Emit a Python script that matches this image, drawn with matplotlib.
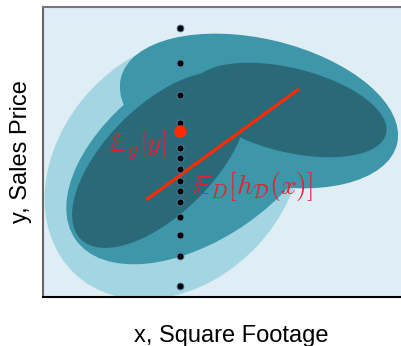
import matplotlib
matplotlib.use("Agg")
import matplotlib.pyplot as plt
from matplotlib.patches import Ellipse

plt.rcParams['font.family'] = ['Liberation Sans', 'DejaVu Sans']
plt.rcParams['mathtext.fontset'] = 'cm'

# ellipses (center x, center y, width, height, angle) for each shade
light_blobs = [(131, 129, 290, 228, 47)]
medium_blobs = [(155.5, 143.4, 300, 170, 35), (216, 186, 284, 144, -13.4)]
dark_blobs = [(117, 137, 224, 108, 45), (246, 187, 200, 84, -13.8)]

# samples of y at one query x
x_query = 137
y_samples = [269, 234, 202, 174, 149, 139, 128, 116, 106, 95, 80, 62, 41, 11]
y_mean = 166

# average prediction line
line_x = [103, 256]
line_y = [97, 208]

bg_color = '#dfeef5'
light_color = '#a4d5e3'
medium_color = '#3d96aa'
dark_color = '#296978'
red = '#ff2a00'
text_red = '#e8202a'

fig = plt.figure(figsize=(4.01, 3.46), dpi=100)
ax = fig.add_axes([0.1072, 0.1416, 0.94, 0.8396])
ax.set_xlim(0, 377)
ax.set_ylim(0, 290.5)
ax.set_facecolor(bg_color)

for blobs, col in [(light_blobs, light_color), (medium_blobs, medium_color), (dark_blobs, dark_color)]:
    for cx, cy, w, h, ang in blobs:
        ax.add_patch(Ellipse((cx, cy), w, h, angle=ang, facecolor=col, edgecolor='none'))

ax.plot(line_x, line_y, color=red, lw=2.3, solid_capstyle='butt', zorder=3)
ax.plot([x_query] * len(y_samples), y_samples, 'o', color='black', ms=5,
        mec='#5d82a8', mew=0.6, zorder=4)
ax.plot([x_query], [y_mean], 'o', color=red, ms=8, mec=red, zorder=5)

ax.text(66, 145, r'$\mathbb{E}_y[y]$', color=text_red, fontsize=20, zorder=6)
ax.text(149, 103, r'$\mathbb{E}_D[h_{\mathcal{D}}(x)]$', color=text_red, fontsize=20, zorder=6)

ax.set_xticks([])
ax.set_yticks([])
ax.spines['right'].set_visible(False)
ax.spines['top'].set_color('#777777')
ax.spines['top'].set_linewidth(1.5)
ax.spines['left'].set_color('#666666')
ax.spines['left'].set_linewidth(1.5)
ax.spines['bottom'].set_color('black')
ax.spines['bottom'].set_linewidth(1.5)

ax.set_xlabel('x, Square Footage', fontsize=17, labelpad=20)
ax.set_ylabel('y, Sales Price', fontsize=17, labelpad=8)

fig.savefig('out.png', dpi=100)
